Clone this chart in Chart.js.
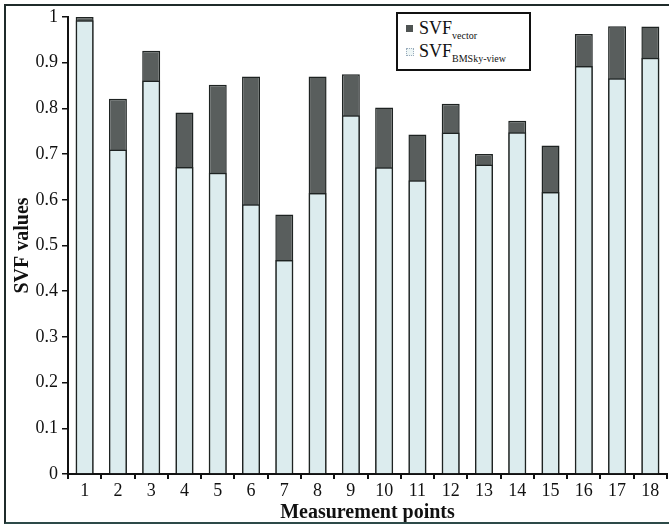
<!DOCTYPE html>
<html>
<head>
<meta charset="utf-8">
<script src="https://cdn.jsdelivr.net/npm/chart.js@4/dist/chart.umd.min.js"></script>
<style>
  html,body{margin:0;padding:0;background:#fff;}
  #wrap{position:relative;width:669px;height:525px;overflow:hidden;}
  #frame{position:absolute;left:4px;top:4px;width:700px;height:516px;border-left:2px solid #1f2b2a;border-top:2px solid #1f2b2a;border-bottom:2px solid #2d4a48;pointer-events:none;}
  canvas{position:absolute;left:0;top:0;}
  #legend{position:absolute;left:396px;top:12px;width:131px;height:55px;border:2px solid #111;background:#fff;font-family:"Liberation Serif",serif;color:#111;}
  .row{position:absolute;left:0;white-space:nowrap;font-size:18px;line-height:18px;}
  .mk{position:absolute;width:7px;height:7px;}
  .txt{position:absolute;left:21px;top:0;}
  .txt sub{font-size:10px;vertical-align:-5px;line-height:10px;}
</style>
</head>
<body>
<div id="wrap">
  <canvas id="c" width="669" height="525"></canvas>
  <div id="frame"></div>
  <div id="legend">
    <div class="row" style="top:5px;"><span class="mk" style="left:8px;top:6px;background:#4f5453;"></span><span class="txt">SVF<sub>vector</sub></span></div>
    <div class="row" style="top:28px;"><span class="mk" style="left:8px;top:6px;border:1px dotted #9ab;width:6px;height:6px;background:#eef6f6;"></span><span class="txt">SVF<sub>BMSky-view</sub></span></div>
  </div>
</div>
<script>
const categories = ['1','2','3','4','5','6','7','8','9','10','11','12','13','14','15','16','17','18'];
const svfVector = [1.0, 0.821, 0.926, 0.791, 0.852, 0.870, 0.568, 0.870, 0.875, 0.802, 0.743, 0.810, 0.700, 0.773, 0.719, 0.963, 0.980, 0.979];
const svfBMSkyView = [0.993, 0.710, 0.861, 0.672, 0.659, 0.590, 0.468, 0.615, 0.785, 0.671, 0.643, 0.747, 0.677, 0.748, 0.617, 0.893, 0.866, 0.911];
const yTicks = [0, 0.1, 0.2, 0.3, 0.4, 0.5, 0.6, 0.7, 0.8, 0.9, 1];

const serif = "'Liberation Serif', 'Times New Roman', serif";

new Chart(document.getElementById('c'), {
  type: 'bar',
  data: {
    labels: categories,
    datasets: [
      {
        label: 'SVF BMSky-view',
        data: svfBMSkyView,
        backgroundColor: '#dcecee',
        borderColor: '#1e2322',
        borderWidth: 1.5,
        borderSkipped: 'bottom',
        barPercentage: 0.54,
        categoryPercentage: 1.0
      },
      {
        label: 'SVF vector',
        data: svfVector,
        backgroundColor: '#595e5d',
        borderColor: '#1e2322',
        borderWidth: 1.5,
        borderSkipped: 'bottom',
        barPercentage: 0.54,
        categoryPercentage: 1.0
      }
    ]
  },
  options: {
    responsive: false,
    animation: false,
    devicePixelRatio: 1,
    layout: { padding: { top: 17, right: 2, left: 0, bottom: 0 } },
    plugins: { legend: { display: false }, tooltip: { enabled: false } },
    scales: {
      x: {
        stacked: true,
        offset: true,
        border: { display: true, color: '#111', width: 2 },
        grid: { display: true, drawOnChartArea: false, drawTicks: true, tickLength: 5, color: '#111', lineWidth: 2, offset: true },
        ticks: { color: '#111', font: { family: serif, size: 18 }, padding: 1, maxRotation: 0, autoSkip: false },
        title: { display: true, text: 'Measurement points', color: '#111', font: { family: serif, size: 20, weight: 'bold' }, padding: { top: 3, bottom: 0 } },
        afterFit: (s) => { s.height = 51; }
      },
      y: {
        stacked: false,
        min: 0,
        max: 1,
        afterBuildTicks: (s) => { s.ticks = yTicks.map(v => ({ value: v })); },
        border: { display: true, color: '#111', width: 2 },
        grid: { display: true, drawOnChartArea: false, drawTicks: true, tickLength: 6, color: '#111', lineWidth: 1.5 },
        ticks: { color: '#111', font: { family: serif, size: 18 }, padding: 4,
          callback: (v) => String(Math.round(v * 10) / 10) },
        title: { display: true, text: 'SVF values', color: '#111', font: { family: serif, size: 20, weight: 'bold' }, padding: { top: 11, bottom: 0 } },
        afterFit: (s) => { s.width = 68; }
      }
    }
  }
});
</script>
</body>
</html>
